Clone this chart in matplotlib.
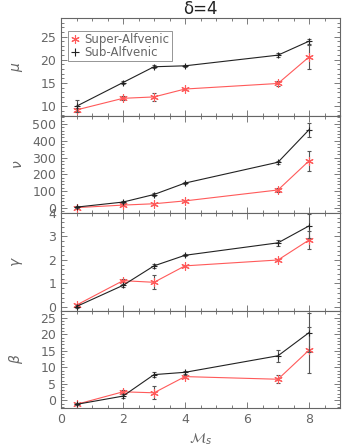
import matplotlib
matplotlib.use("Agg")
import matplotlib.pyplot as plt
from matplotlib.lines import Line2D
from matplotlib.ticker import MultipleLocator

# Mach numbers
ms = [0.5, 2, 3, 4, 7, 8]

# mu
mu_sub = [10.0, 15.1, 18.5, 18.7, 21.0, 24.0]
mu_sub_err = [1.3, 0.3, 0.3, 0.2, 0.4, 0.5]
mu_sup = [9.2, 11.7, 12.0, 13.7, 14.9, 20.6]
mu_sup_err = [0.5, 0.4, 0.8, 0.3, 0.6, 2.6]

# nu
nu_sub = [5, 35, 80, 148, 272, 465]
nu_sub_err = [4, 6, 8, 8, 10, 40]
nu_sup = [2, 17, 25, 42, 107, 280]
nu_sup_err = [3, 5, 6, 5, 12, 60]

# gamma
ga_sub = [0.02, 0.92, 1.75, 2.2, 2.73, 3.45]
ga_sub_err = [0.05, 0.05, 0.08, 0.05, 0.12, 0.5]
ga_sup = [0.08, 1.12, 1.05, 1.75, 2.0, 2.85]
ga_sup_err = [0.05, 0.06, 0.3, 0.05, 0.06, 0.4]

# beta
be_sub = [-1.2, 1.3, 7.8, 8.5, 13.5, 20.5]
be_sub_err = [0.3, 0.5, 0.8, 0.5, 1.8, 6.0]
be_sup = [-1.2, 2.6, 2.3, 7.2, 6.4, 15.2]
be_sup_err = [0.3, 0.5, 2.0, 0.5, 1.2, 7.0]

panels = [
    (r"$\mu$", mu_sub, mu_sub_err, mu_sup, mu_sup_err, (8, 29), 5, 1),
    (r"$\nu$", nu_sub, nu_sub_err, nu_sup, nu_sup_err, (-30, 550), 100, 20),
    (r"$\gamma$", ga_sub, ga_sub_err, ga_sup, ga_sup_err, (-0.15, 4.0), 1, 0.2),
    (r"$\beta$", be_sub, be_sub_err, be_sup, be_sup_err, (-2.3, 27.2), 5, 1),
]

GRAY = "#666666"
RED = "#ff5a5a"
STAR = (6, 2, 0)

fig = plt.figure(figsize=(3.58, 4.47), dpi=100)
left, width = 61 / 358, 279 / 358
top_px, h_px = 18, 97.5

axes = []
for i, (lab, ysub, esub, ysup, esup, ylim, maj, mnr) in enumerate(panels):
    bottom = 1 - (top_px + (i + 1) * h_px) / 447
    ax = fig.add_axes([left, bottom, width, h_px / 447])
    axes.append(ax)
    ax.errorbar(ms, ysub, yerr=esub, color="#222222", lw=0.8, ecolor="#555555",
                elinewidth=0.8, capsize=1.5, marker="+", ms=5, mew=0.8, zorder=3)
    ax.errorbar(ms, ysup, yerr=esup, color=RED, lw=0.8, ecolor="#555555",
                elinewidth=0.8, capsize=1.5, marker=STAR, ms=6, mew=0.8,
                mec=RED, zorder=2)
    ax.set_xlim(0, 9)
    ax.set_ylim(*ylim)
    ax.xaxis.set_major_locator(MultipleLocator(2))
    ax.xaxis.set_minor_locator(MultipleLocator(0.5))
    ax.yaxis.set_major_locator(MultipleLocator(maj))
    ax.yaxis.set_minor_locator(MultipleLocator(mnr))
    ax.tick_params(which="both", direction="in", top=True, right=True,
                   colors=GRAY, labelsize=9, width=0.6)
    ax.tick_params(which="major", length=4)
    ax.tick_params(which="minor", length=2)
    for s in ax.spines.values():
        s.set_color(GRAY)
        s.set_linewidth(0.8)
    ax.set_ylabel(lab, color=GRAY, fontsize=10)
    ax.yaxis.set_label_coords(-0.13, 0.5)
    if i < 3:
        ax.set_xticklabels([])

handles = [Line2D([], [], ls="none", marker=STAR, color=RED, ms=6, mew=0.8),
           Line2D([], [], ls="none", marker="+", color="#222222", ms=6, mew=0.8)]
leg = axes[0].legend(handles, ["Super-Alfvenic", "Sub-Alfvenic"], loc="upper left",
                     fontsize=8.5, frameon=True, fancybox=False, edgecolor=GRAY,
                     handlelength=0.8, handletextpad=0.4, borderpad=0.2,
                     labelspacing=0.0, borderaxespad=0.0,
                     bbox_to_anchor=(0.025, 0.87))
leg.get_frame().set_linewidth(0.6)
for t in leg.get_texts():
    t.set_color(GRAY)

axes[-1].set_xlabel(r"$\mathcal{M}_s$", color=GRAY, fontsize=10)
fig.text(left + width / 2, 1 - 9 / 447, "δ=4", ha="center", va="center",
         fontsize=12, color="#222222")

fig.savefig("out.png", dpi=100)
